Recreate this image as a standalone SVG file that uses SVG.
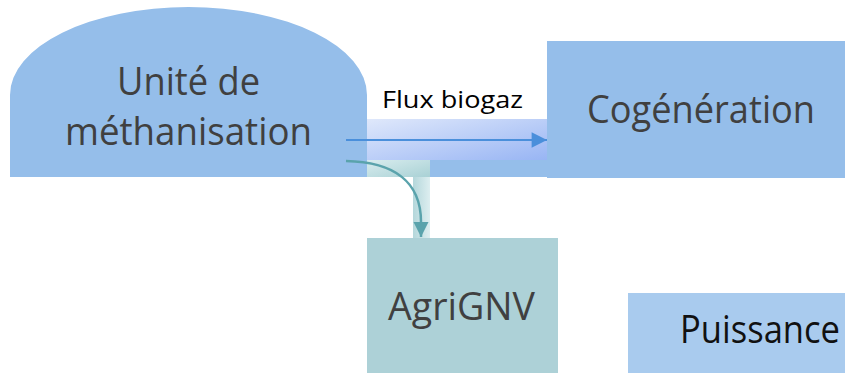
<svg xmlns="http://www.w3.org/2000/svg" width="845" height="373" viewBox="0 0 845 373">
<defs>
<linearGradient id="gBlue" x1="0" y1="0" x2="1" y2="1">
<stop offset="0" stop-color="#DFE8FB"/>
<stop offset="1" stop-color="#98B5F4"/>
</linearGradient>
<linearGradient id="gTealH" x1="0" y1="0" x2="1" y2="1">
<stop offset="0" stop-color="#D8ECEE"/>
<stop offset="1" stop-color="#A9D1D5"/>
</linearGradient>
<linearGradient id="gTealV" x1="0" y1="0" x2="1" y2="0">
<stop offset="0" stop-color="#B4D7DB"/>
<stop offset="1" stop-color="#DDEEF0"/>
</linearGradient>
<marker id="arrBlue" viewBox="0 0 10 10" refX="10" refY="5" markerWidth="7.5" markerHeight="7" orient="auto" markerUnits="strokeWidth">
<path d="M0,0 L10,5 L0,10 Z" fill="#4A8FDB"/>
</marker>
<marker id="arrTeal" viewBox="0 0 10 10" refX="10" refY="5" markerWidth="6.2" markerHeight="6.5" orient="auto" markerUnits="strokeWidth">
<path d="M0,0 L10,5 L0,10 Z" fill="#5AA3AC"/>
</marker>
</defs>
<style>
.lbl{font-family:"Open Sans","Noto Sans",sans-serif;font-size:38px;fill:#404040;text-anchor:middle}
.blue{fill:#95BEEA}
</style>
<rect width="845" height="373" fill="#FFFFFF"/>
<g id="unite">
<path class="blue" d="M10,177 L10,95 A178.5,88 0 0 1 367,95 L367,177 Z"/>
<text class="lbl" x="188.5" y="95" textLength="143" lengthAdjust="spacingAndGlyphs">Unité de</text>
<text class="lbl" x="188.5" y="145" textLength="247" lengthAdjust="spacingAndGlyphs">méthanisation</text>
</g>
<g id="cogeneration">
<rect class="blue" x="547" y="41" width="300" height="137"/>
<text class="lbl" x="701" y="123" textLength="228" lengthAdjust="spacingAndGlyphs">Cogénération</text>
</g>
<g id="agrignv">
<rect x="367" y="238" width="191" height="140" fill="#ADD1D7"/>
<text class="lbl" x="461.5" y="320" textLength="147" lengthAdjust="spacingAndGlyphs">AgriGNV</text>
</g>
<g id="puissance">
<rect x="628" y="293" width="220" height="85" fill="#A9CBEE"/>
<text class="lbl" x="680" y="343" style="fill:#111111;text-anchor:start" textLength="160" lengthAdjust="spacingAndGlyphs">Puissance</text>
</g>
<g id="connectors">
<rect class="blue" x="430" y="160" width="117" height="17"/>
<rect x="367" y="119" width="180" height="41" fill="url(#gBlue)"/>
<rect x="367" y="160" width="63" height="17" fill="url(#gTealH)"/>
<rect x="413" y="177" width="17" height="61" fill="url(#gTealV)"/>
<line x1="346" y1="140" x2="547" y2="140" stroke="#4A8FDB" stroke-width="2.2" marker-end="url(#arrBlue)"/>
<path d="M346,161 C392,162 421,180 421,222 L421,237" fill="none" stroke="#5AA3AC" stroke-width="2.5" marker-end="url(#arrTeal)"/>
<text x="452.5" y="108" font-family="'Open Sans','Noto Sans',sans-serif" font-size="24" fill="#000000" text-anchor="middle" textLength="141" lengthAdjust="spacingAndGlyphs">Flux biogaz</text>
</g>
</svg>
